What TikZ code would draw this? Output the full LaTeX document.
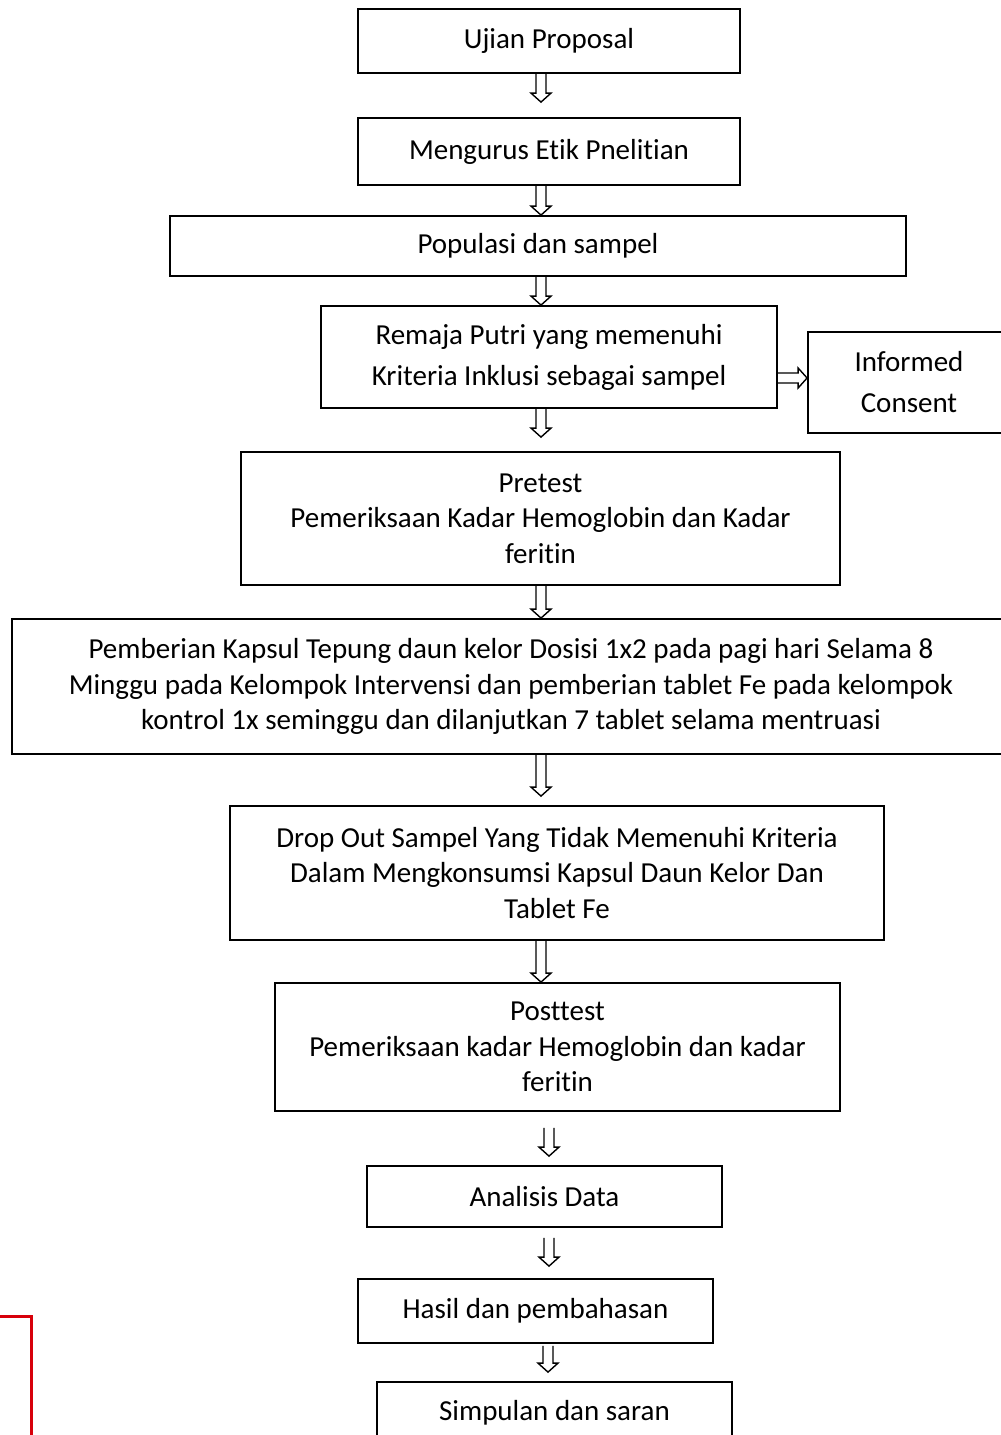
\documentclass[tikz,border=0pt]{standalone}
\usepackage{fontspec}
\setmainfont[Ligatures=NoCommon, RawFeature={-liga;-clig;-calt;-dlig}]{Carlito}
\usetikzlibrary{calc}
\definecolor{boxred}{RGB}{215,0,10}

% hollow block arrow between two points
\newcommand\hollowto[2]{%
  \draw[line width=1.4pt, line join=miter]
    let \p1=(#1), \p2=(#2), \p3=($(\p2)!9pt!(\p1)$) in
    ($(\p1)!5pt!90:(\p2)$) -- ($(\p3)!5pt!90:(\p2)$) -- ($(\p3)!10pt!90:(\p2)$) -- (\p2)
    -- ($(\p3)!10pt!-90:(\p2)$) -- ($(\p3)!5pt!-90:(\p2)$) -- ($(\p1)!5pt!-90:(\p2)$);}

\tikzset{
  box/.style={draw, line width=1.8pt, align=center, inner sep=0pt,
    font=\fontsize{29}{35.5}\selectfont},
  widebox/.style={box, font=\fontsize{29}{41}\selectfont}
}

\begin{document}
\begin{tikzpicture}[x=1pt, y=-1pt]
		\clip (0,0) rectangle (1001,1435);
		\fill[white] (0,0) rectangle (1001,1435);
		\draw (549,41) node[box, minimum width=382, minimum height=64] (ujian) {Ujian Proposal}
		(549,151.5) node[box, minimum width=382, minimum height=67] (etik) {Mengurus Etik Pnelitian}
		(538,246) node[box, minimum width=736, minimum height=60] (populasi) {Populasi dan sampel}
		(549,357) node[widebox, minimum width=456, minimum height=102] (remaja) {Remaja Putri yang memenuhi\\ Kriteria Inklusi sebagai sampel}
		(909,382.5) node[widebox, minimum width=202, minimum height=101] (informed) {Informed\\ Consent}
		(540.5,518.5) node[box, minimum width=599, minimum height=133] (pretest) {Pretest\\ Pemeriksaan Kadar Hemoglobin dan Kadar\\ feritin}
		(511,686.5) node[box, minimum width=998, minimum height=135] (pemberian) {Pemberian Kapsul Tepung daun kelor Dosisi 1x2 pada pagi hari Selama 8\\ Minggu pada Kelompok Intervensi dan pemberian tablet Fe pada kelompok\\ kontrol 1x seminggu dan dilanjutkan 7 tablet selama mentruasi}
		(557,873) node[box, minimum width=654, minimum height=134] (dropout) {Drop Out Sampel Yang Tidak Memenuhi Kriteria\\ Dalam Mengkonsumsi Kapsul Daun Kelor Dan\\ Tablet Fe}
		(557.5,1047) node[box, minimum width=565, minimum height=128] (posttest) {Posttest\\ Pemeriksaan kadar Hemoglobin dan kadar\\ feritin}
		(544.5,1196.5) node[box, minimum width=355, minimum height=61] (analisis) {Analisis Data}
		(535.5,1311) node[box, minimum width=355, minimum height=64] (hasil) {Hasil dan pembahasan}
		(554.5,1413) node[box, minimum width=355, minimum height=62] (simpulan) {Simpulan dan saran};
		
		% red frame at the bottom left
		\draw[boxred, line width=3pt] (-40,1316) rectangle (31,1480);
		
		\coordinate (spine) at (541,0);
		\coordinate (spinelow) at (549,0);
		\coordinate (side) at ($(remaja.east)+(0,21)$);
		\coordinate (etiktop) at ($(etik.north -| spine)+(0,-15)$);
		\coordinate (pretesttop) at ($(pretest.north -| spine)+(0,-14)$);
		\coordinate (dropouttop) at ($(dropout.north -| spine)+(0,-9)$);
		\coordinate (posttestfoot) at ($(posttest.south -| spinelow)+(0,16)$);
		\coordinate (analisistop) at ($(analisis.north -| spinelow)+(0,-9)$);
		\coordinate (analisisfoot) at ($(analisis.south -| spinelow)+(0,10)$);
		\coordinate (hasiltop) at ($(hasil.north -| spinelow)+(0,-12)$);
		\coordinate (hasilfoot) at ($(hasil.south -| spinelow)+(-1,2)$);
		\coordinate (simpulantop) at ($(simpulan.north -| spinelow)+(-1,-9)$);
		
		\hollowto{ujian.south -| spine}{etiktop}
		\hollowto{etik.south -| spine}{populasi.north -| spine}
		\hollowto{populasi.south -| spine}{remaja.north -| spine}
		\hollowto{remaja.south -| spine}{pretesttop}
		\hollowto{side}{side -| informed.west}
		\hollowto{pretest.south -| spine}{pemberian.north -| spine}
		\hollowto{pemberian.south -| spine}{dropouttop}
		\hollowto{dropout.south -| spine}{posttest.north -| spine}
		\hollowto{posttestfoot}{analisistop}
		\hollowto{analisisfoot}{hasiltop}
		\hollowto{hasilfoot}{simpulantop}
	\end{tikzpicture}
\end{document}
